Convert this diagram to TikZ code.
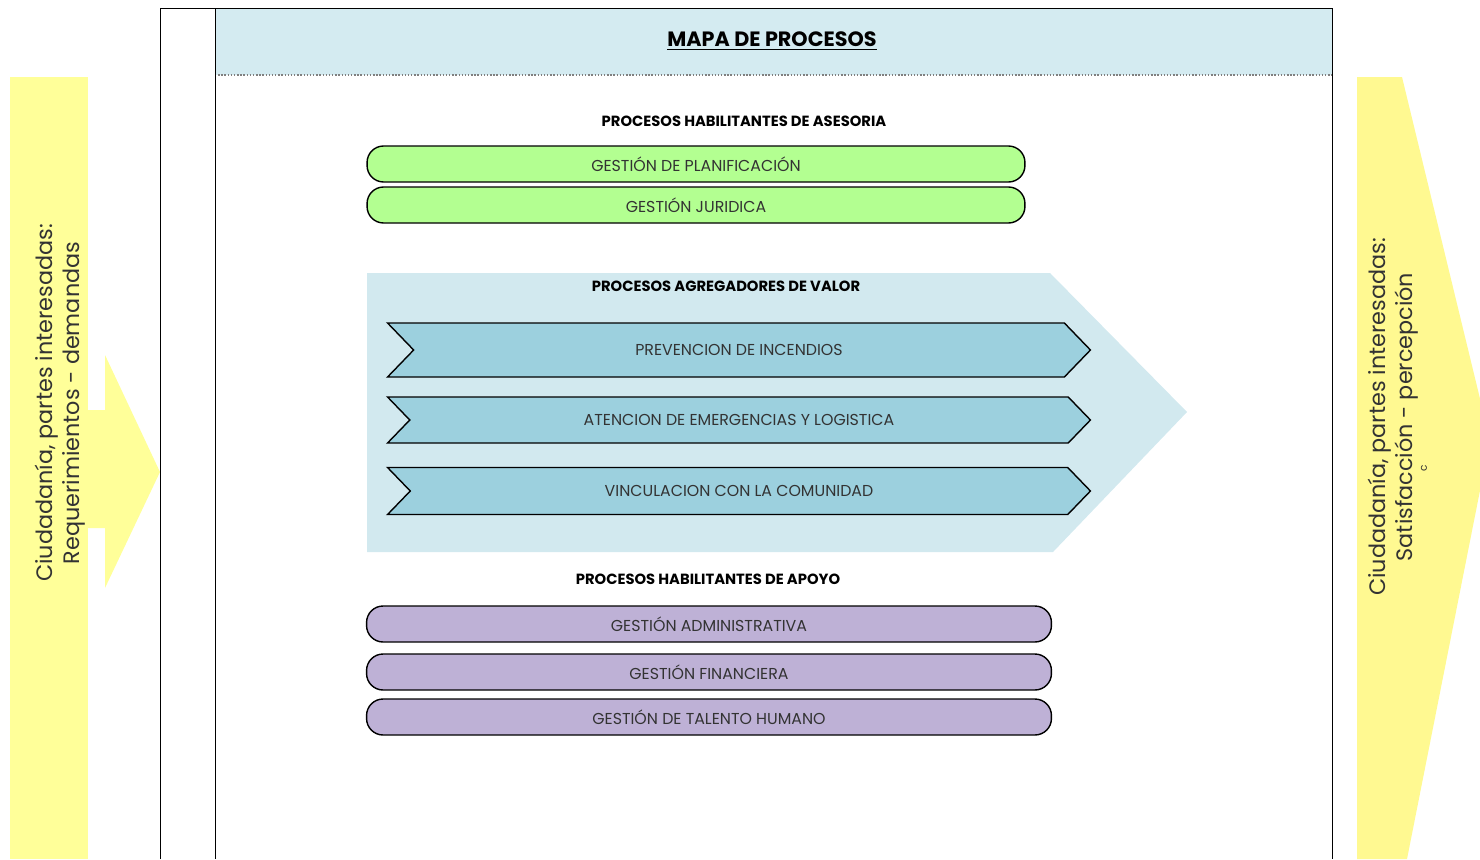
\documentclass[tikz,border=0pt]{standalone}
\usepackage{fontspec}
\setmainfont{Poppins}
\usetikzlibrary{shapes.symbols,positioning}

\definecolor{hdrblue}{HTML}{D4EBF1}
\definecolor{valblue}{HTML}{D2E9EF}
\definecolor{chevblue}{HTML}{9CD0DE}
\definecolor{asegreen}{HTML}{B3FF91}
\definecolor{apolila}{HTML}{BEB1D6}
\definecolor{citiyellow}{HTML}{FFFF99}
\definecolor{txtgray}{HTML}{333333}

\tikzset{
	sectitle/.style = {font=\bfseries\fontsize{8.4}{10}\selectfont, text=black},
	greenbar/.style = {draw, thick, fill=asegreen, rounded corners=0.33cm,
		minimum width=13.16cm, minimum height=0.72cm, text=txtgray,
		font=\fontsize{9}{10}\selectfont},
	lilabar/.style = {greenbar, fill=apolila, minimum width=13.7cm},
	chevbar/.style = {draw, thick, fill=chevblue, shape=signal,
		signal from=west, signal to=east, signal pointer angle=92,
		minimum width=14.06cm, text=txtgray,
		font=\fontsize{9}{10}\selectfont},
	sidetext/.style = {rotate=90, align=center, text=txtgray,
		font=\fontsize{12.7}{15}\selectfont}
}

\begin{document}
\begin{tikzpicture}[x=0.02cm,y=-0.02cm]
\useasboundingbox (0,0) rectangle (1480,859);

% entradas / salidas
\fill[citiyellow] (10,77) rectangle (88,859);
\fill[citiyellow] (87,410) -- (105,410) -- (105,355) -- (160,472)
	-- (105,588) -- (105,528) -- (87,528) -- cycle;
\fill[citiyellow!95!orange] (1357,77) -- (1402,77) -- (1490,440)
	-- (1407,859) -- (1357,859) -- cycle;

% marco
\fill[hdrblue] (215,8) rectangle (1332,75);
\draw[gray, densely dotted, thick] (215,75) -- (1332,75);
\draw (160,859) -- (160,8) -- (1332,8) -- (1332,859);
\draw (215,8) -- (215,859);

\node[font=\bfseries\fontsize{11.8}{13}\selectfont] (titulo) at (772,41)
	{\underline{MAPA DE PROCESOS}};

% asesoria
\node[sectitle] (ases) at (744,121) {PROCESOS HABILITANTES DE ASESORIA};
\node[greenbar] (plan) at (696,164) {GESTIÓN DE PLANIFICACIÓN};
\node[greenbar] (jur) at (696,205) {GESTIÓN JURIDICA};

% agregadores de valor
\fill[valblue] (367,273) -- (1050,273) -- (1187,412) -- (1053,552)
	-- (367,552) -- cycle;
\node[sectitle] (valor) at (726,286) {PROCESOS AGREGADORES DE VALOR};
\node[chevbar, minimum height=1.08cm] (prev) at (739,350) {PREVENCION DE INCENDIOS};
\node[chevbar, minimum height=0.92cm] (aten) at (739,420) {ATENCION DE EMERGENCIAS Y LOGISTICA};
\node[chevbar, minimum height=0.94cm] (vinc) at (739,491) {VINCULACION CON LA COMUNIDAD};

% apoyo
\node[sectitle] (apoyo) at (708,579) {PROCESOS HABILITANTES DE APOYO};
\node[lilabar] (adm) at (709,624) {GESTIÓN ADMINISTRATIVA};
\node[lilabar] (fin) at (709,672) {GESTIÓN FINANCIERA};
\node[lilabar] (tal) at (709,717) {GESTIÓN DE TALENTO HUMANO};

% textos laterales
\node[sidetext] (entrada) at (60,403)
	{Ciudadanía, partes interesadas:\\Requerimientos - demandas};
\node[sidetext] (salida) at (1393,417)
	{Ciudadanía, partes interesadas:\\Satisfacción - percepción};
\node[rotate=90, text=txtgray, font=\fontsize{6}{7}\selectfont] (marca) at (1424,468) {c};
\end{tikzpicture}
\end{document}
